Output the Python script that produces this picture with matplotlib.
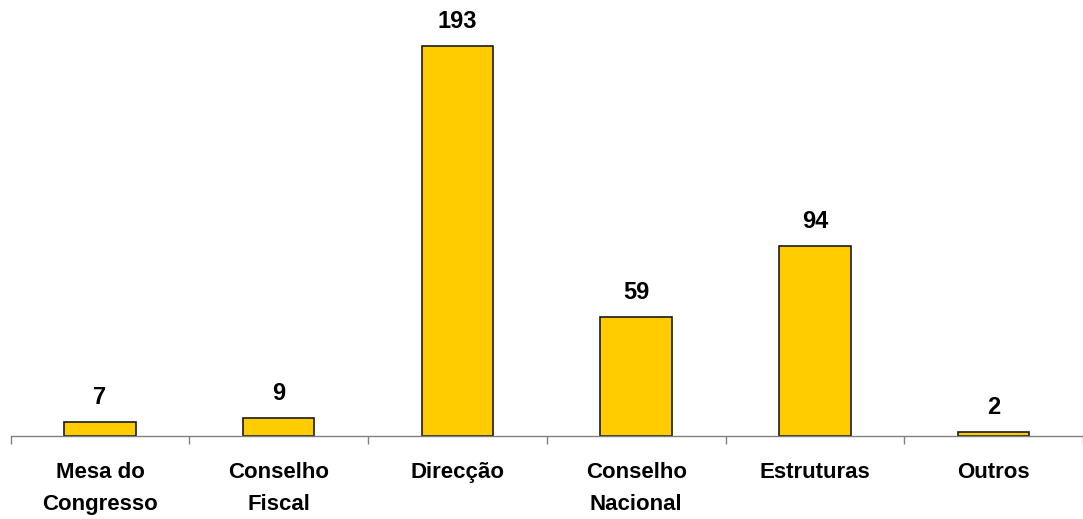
import matplotlib.pyplot as plt
import numpy as np

categories = ['Mesa do\nCongresso', 'Conselho\nFiscal', 'Direcção',
              'Conselho\nNacional', 'Estruturas', 'Outros']
values = [7, 9, 193, 59, 94, 2]

plt.rcParams['font.family'] = ['Liberation Sans', 'DejaVu Sans']

fig = plt.figure(figsize=(10.83, 5.19), dpi=100)
ax = fig.add_axes([10.6 / 1083, 83 / 519, 1072.4 / 1083, 436 / 519])

x = np.arange(len(categories))
ax.bar(x, values, width=0.4, color='#FFCC00', edgecolor='#1a1a1a', linewidth=1.2)

for xi, v in zip(x, values):
    ax.text(xi, v + 8.8, str(v), ha='center', va='baseline',
            fontsize=17, fontweight='bold', color='black')

ax.set_xlim(-0.5, -0.5 + 1072.4 / 179.7)
ax.set_ylim(0, 436 / 2.02)

ax.set_xticks(x)
ax.set_xticklabels(categories, fontsize=16, fontweight='bold', linespacing=1.65)
ax.set_xticks(np.arange(-0.5, 6, 1), minor=True)
ax.tick_params(axis='x', which='major', length=0, pad=19)
ax.tick_params(axis='x', which='minor', length=6, color='#808080', width=1)
ax.set_yticks([])

for s in ['top', 'right', 'left']:
    ax.spines[s].set_visible(False)
ax.spines['bottom'].set_color('#808080')
ax.spines['bottom'].set_linewidth(1)

fig.savefig('out.png', dpi=100)
